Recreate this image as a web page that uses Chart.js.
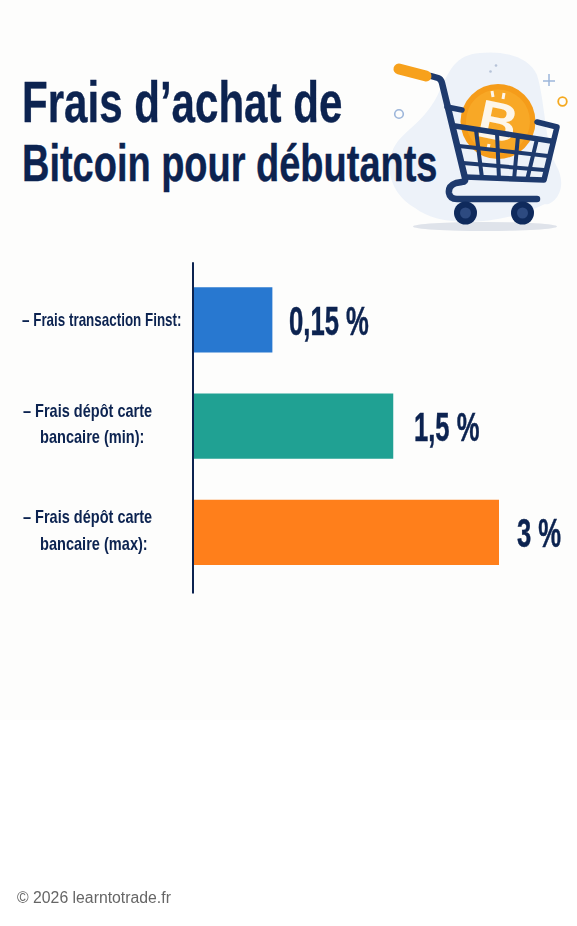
<!DOCTYPE html>
<html lang="fr"><head><meta charset="utf-8"><title>Frais d’achat de Bitcoin pour débutants</title>
<script src="https://cdn.jsdelivr.net/npm/chart.js@4"></script>
<style>
html,body{margin:0;padding:0;background:#fff}
#page{position:relative;width:577px;height:926px;overflow:hidden;background:#fff}
#bg{position:absolute;left:0;top:0;width:577px;height:720px;background:#fdfdfc}
svg{position:absolute;left:0;top:0}
canvas{position:absolute;left:0;top:0}
.t{position:absolute;white-space:nowrap;font-family:"Liberation Sans",sans-serif;font-weight:700;color:#0c2350;transform-origin:0 0;left:22px;line-height:1;-webkit-text-stroke:.4px #0c2350}
#footer{position:absolute;left:17px;top:889px;font:15.8px "Liberation Sans",Arial,sans-serif;color:#666;white-space:nowrap}
</style></head><body>
<div id="page">
<div id="bg"></div>
<svg width="577" height="926" viewBox="0 0 577 926">
 <path d="M480 53 C505 50 530 58 537 75 C545 100 545 145 556 165 C570 190 552 206 545 204 C500 226 440 228 415 208 C392 195 385 170 392 152 C400 130 425 125 440 90 C450 70 455 55 480 53Z" fill="#edf2f9"/>
 <ellipse cx="485" cy="226.5" rx="72" ry="4.5" fill="#dfe3ea"/>
 <circle cx="399" cy="114" r="4.3" fill="none" stroke="#9db6da" stroke-width="1.6"/>
 <circle cx="562.5" cy="101.5" r="4.3" fill="none" stroke="#f5a91f" stroke-width="1.8"/>
 <path d="M549 74V86M543 81H555" stroke="#9db6da" stroke-width="1.5" fill="none"/>
 <circle cx="490.5" cy="71.5" r="1.3" fill="#b6c3d8"/><circle cx="496" cy="65.5" r="1.3" fill="#b6c3d8"/>
 <circle cx="498" cy="121.5" r="37.5" fill="#f59c1a"/>
 <circle cx="498" cy="121.5" r="32" fill="#f8a826"/>
 <text x="498" y="140" text-anchor="middle" transform="rotate(12 498 121)" font-family="Liberation Sans" font-weight="700" font-size="54" fill="#fdf6ea">B</text>
 <path d="M493 97l-1-6M503 99l1-6M488 149l1-5M497 151l1-5" stroke="#fdf6ea" stroke-width="3"/>
 <path d="M431 76 L438 78 Q441 79 442 83 L465 178 Q466 182 462 182 L456 183 Q448 186 449 193 Q450 199 457 199 L537 199" fill="none" stroke="#1e3a6d" stroke-width="6.5" stroke-linecap="round" stroke-linejoin="round"/>
 <path d="M455 126 L551 141 M537 122 L557 127 L544 180 L465 177 M447 107 L462 110" fill="none" stroke="#1e3a6d" stroke-width="5.5" stroke-linecap="round" stroke-linejoin="round"/>
 <path d="M459 146 L548 156 M463 163 L544 170" fill="none" stroke="#1e3a6d" stroke-width="4"/>
 <path d="M476 130 L482 178 M497 133 L499 179 M518 136 L514 180 M537 139 L527 180" fill="none" stroke="#1e3a6d" stroke-width="4"/>
 <path d="M399 69 L426 76" stroke="#f7a11c" stroke-width="11" stroke-linecap="round"/>
 <circle cx="465.5" cy="213" r="11.5" fill="#0f2a5c"/><circle cx="465.5" cy="213" r="5.5" fill="#2d4a80"/>
 <circle cx="522.5" cy="213" r="11.5" fill="#0f2a5c"/><circle cx="522.5" cy="213" r="5.5" fill="#2d4a80"/>
</svg>
<div class="t" id="t1" style="top:73.5px;font-size:57px;transform:scaleX(.738)">Frais d’achat de</div>
<div class="t" id="t2" style="top:137px;font-size:52px;transform:scaleX(.73)">Bitcoin pour débutants</div>
<canvas id="c" width="577" height="926"></canvas>
<div id="footer">© 2026 learntotrade.fr</div>
</div>
<script>
// Category labels, one array entry per drawn line
const categories = [["– Frais transaction Finst:"], ["– Frais dépôt carte", "bancaire (min):"], ["– Frais dépôt carte", "bancaire (max):"]];
// Bar lengths, on the scale where the longest bar reads 3
const barValues = [0.775, 1.96, 3];
// Printed labels next to the bars
const valueLabels = ["0,15 %", "1,5 %", "3 %"];
const barColors = ["#2878d0", "#20a193", "#ff7f1b"];

const NAVY = "#0c2350";
const FONT = '"Liberation Sans",sans-serif';
const labelGaps = [17, 21, 18];
function squeezed(ctx, text, x, y, font, sx, color, stroke) {
  ctx.save();
  ctx.translate(x, y);
  ctx.scale(sx, 1);
  ctx.font = font;
  ctx.fillStyle = color;
  ctx.textAlign = "left";
  ctx.textBaseline = "middle";
  ctx.fillText(text, 0, 0);
  if (stroke) { ctx.strokeStyle = color; ctx.lineWidth = stroke; ctx.strokeText(text, 0, 0); }
  ctx.restore();
}
const textPlugin = {
  id: "barText",
  afterDatasetsDraw(chart) {
    const { ctx, chartArea: a, scales: { x, y } } = chart;
    ctx.save();
    ctx.strokeStyle = NAVY;
    ctx.lineWidth = 2;
    ctx.beginPath();
    ctx.moveTo(a.left, a.top - 4.5);
    ctx.lineTo(a.left, a.bottom + 8);
    ctx.stroke();
    ctx.restore();
    categories.forEach((lines, i) => {
      const cy = y.getPixelForValue(i);
      if (lines.length === 1) {
        squeezed(ctx, lines[0], 22, cy + 1, "700 19px " + FONT, 0.706, NAVY);
      } else {
        squeezed(ctx, lines[0], 23, cy - 14.5, "700 19px " + FONT, 0.764, NAVY);
        squeezed(ctx, lines[1], 40, cy + 12, "700 19px " + FONT, 0.767, NAVY);
      }
      squeezed(ctx, valueLabels[i], x.getPixelForValue(barValues[i]) + labelGaps[i], cy + 3.5, "700 41px " + FONT, 0.625, NAVY, 0.5);
    });
  }
};
new Chart(document.getElementById("c"), {
  type: "bar",
  data: { labels: categories, datasets: [{ data: barValues, backgroundColor: barColors, borderWidth: 0, barThickness: 64.5 }] },
  options: {
    indexAxis: "y", responsive: false, animation: false,
    layout: { padding: { left: 193, right: 78, top: 266.8, bottom: 340.6 } },
    plugins: { legend: { display: false }, tooltip: { enabled: false } },
    scales: { x: { display: false, min: 0, max: 3 }, y: { display: false } }
  },
  plugins: [textPlugin]
});
</script>
</body></html>
